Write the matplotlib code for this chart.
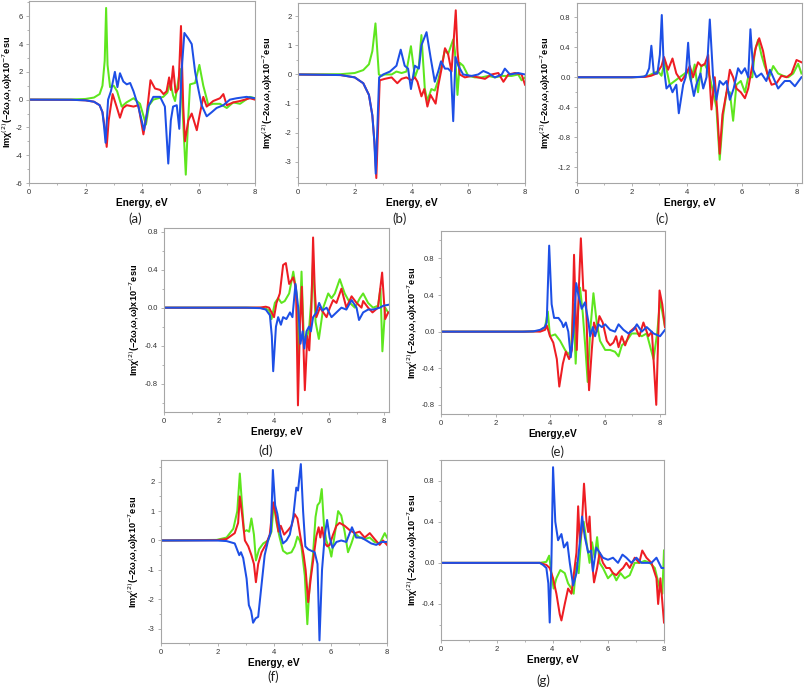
import matplotlib
matplotlib.use("Agg")
import matplotlib.pyplot as plt
from matplotlib.ticker import MultipleLocator, FormatStrFormatter

# ---------------- data (energy in eV, Im chi(2) in 1e-7 esu) ----------------
# panel (a)
A_GREEN_E = [0, 1.5, 2.0, 2.3, 2.5, 2.6, 2.68, 2.73, 2.78, 2.87, 3.0, 3.12, 3.28, 3.45, 3.7, 3.93, 4.14, 4.25, 4.4, 4.75,
             4.9, 5.0, 5.1, 5.17, 5.35, 5.42, 5.55, 5.62, 5.7, 5.88, 6.03, 6.17, 6.35, 6.52, 6.76, 7.0, 7.23, 7.47, 7.82, 8.0]
A_GREEN = [0, 0.01, 0.05, 0.15, 0.4, 1.0, 2.8, 6.6, 2.5, 0.9, 1.0, 0.6, -0.5, -0.2, 0.1, -0.3, -1.8, -0.4, 0.0, 0.2,
           0.5, 1.3, 0.3, -0.1, 2.2, 0.0, -5.4, -2.0, 1.1, 1.2, 2.5, 1.0, -0.4, -0.3, -0.3, -0.6, -0.2, -0.3, 0.2, 0.1]
A_RED_E = [0, 1.5, 2.0, 2.3, 2.5, 2.6, 2.68, 2.75, 2.82, 2.96, 3.1, 3.22, 3.33, 3.46, 3.7, 3.87, 4.05, 4.17, 4.3, 4.46,
           4.64, 4.76, 4.87, 4.96, 5.02, 5.1, 5.19, 5.29, 5.38, 5.46, 5.52, 5.64, 5.76, 5.94, 6.05, 6.17, 6.29, 6.52,
           6.76, 6.88, 7.0, 7.23, 7.47, 7.82, 8.0]
A_RED = [0, -0.01, -0.05, -0.15, -0.4, -0.9, -2.0, -3.4, -1.5, 0.4, -0.5, -1.3, -0.6, -0.4, -0.5, -0.4, -2.5, -1.0, 1.4, 0.8,
         0.7, 0.4, 0.6, 1.6, 0.7, 2.4, 0.5, 0.8, 5.3, -0.5, -3.0, -1.5, -1.0, -2.2, -1.0, 0.2, -0.5, -0.1,
         0.1, 0.4, -0.4, -0.2, -0.1, 0.1, 0.0]
A_BLUE_E = [0, 1.5, 2.0, 2.3, 2.5, 2.6, 2.66, 2.71, 2.8, 2.9, 3.04, 3.13, 3.22, 3.34, 3.46, 3.58, 3.7, 3.87, 4.07, 4.22,
            4.4, 4.64, 4.81, 4.93, 5.02, 5.1, 5.23, 5.32, 5.4, 5.5, 5.64, 5.76, 5.88, 5.99, 6.11, 6.29, 6.47, 6.64,
            6.88, 7.11, 7.35, 7.7, 8.0]
A_BLUE = [0, -0.01, -0.05, -0.15, -0.4, -0.9, -2.0, -3.1, 0.0, 0.6, 2.0, 0.9, 1.9, 1.3, 1.1, 1.2, 0.6, -0.5, -2.2, -0.5,
          0.2, 0.2, -0.5, -4.6, -1.5, -0.5, -0.4, -2.1, 2.0, 4.8, 4.4, 4.0, 2.0, 0.8, -0.4, -1.2, -0.9, -0.6,
          -0.4, 0.0, 0.1, 0.2, 0.1]

# panel (b)
B_GREEN_E = [0, 1.5, 2.0, 2.3, 2.5, 2.62, 2.73, 2.85, 2.94, 3.06, 3.3, 3.47, 3.65, 3.82, 3.98, 4.12, 4.26, 4.35, 4.47, 4.56,
             4.7, 4.82, 4.94, 5.06, 5.18, 5.29, 5.47, 5.53, 5.62, 5.7, 5.82, 6.0, 6.24, 6.47, 6.7, 6.94, 7.18, 7.53,
             7.76, 7.88, 8.0]
B_GREEN = [0, 0.01, 0.05, 0.15, 0.35, 0.8, 1.75, 0.0, -0.05, 0.0, 0.0, 0.1, 0.05, 0.1, 0.97, -0.1, 0.3, 1.35, -0.5, -0.9,
           -0.5, -0.55, -0.2, 0.3, 0.85, 0.7, 1.2, 0.8, -0.7, 0.4, 0.3, -0.05, -0.1, -0.1, -0.05, -0.1, -0.05, -0.05,
           0.0, -0.2, -0.1]
B_RED_E = [0, 1.5, 2.0, 2.3, 2.5, 2.62, 2.7, 2.76, 2.88, 3.06, 3.3, 3.5, 3.65, 3.82, 4.0, 4.12, 4.21, 4.35, 4.45, 4.56,
           4.67, 4.76, 4.85, 4.94, 5.06, 5.18, 5.29, 5.41, 5.49, 5.56, 5.62, 5.7, 5.88, 6.12, 6.35, 6.59, 6.82, 7.06,
           7.24, 7.41, 7.65, 7.88, 8.0]
B_RED = [0, -0.02, -0.1, -0.3, -0.7, -1.4, -2.4, -3.55, -0.2, -0.15, -0.1, -0.3, -0.15, -0.1, -0.2, -0.1, -0.25, -0.75, -0.5, -1.1,
         -0.7, -0.85, -1.0, -0.4, 0.2, 0.9, 0.7, 0.1, 1.2, 2.2, 0.8, 0.0, -0.1, -0.05, -0.1, -0.15, 0.0, 0.05,
         -0.25, 0.0, 0.05, 0.0, -0.35]
B_BLUE_E = [0, 1.5, 2.0, 2.3, 2.5, 2.62, 2.69, 2.74, 2.86, 3.0, 3.24, 3.47, 3.62, 3.76, 3.88, 3.98, 4.12, 4.26, 4.35, 4.53,
            4.67, 4.82, 4.94, 5.04, 5.18, 5.29, 5.39, 5.47, 5.55, 5.65, 5.82, 6.12, 6.35, 6.53, 6.7, 6.94, 7.18, 7.29,
            7.47, 7.76, 8.0]
B_BLUE = [0, -0.02, -0.1, -0.3, -0.7, -1.4, -2.3, -3.4, -0.1, 0.0, 0.1, 0.3, 0.85, 0.3, 0.2, -0.5, 0.3, 0.2, 1.0, 1.45,
          0.6, -0.25, 0.1, 0.45, 0.2, 0.2, 0.1, -1.6, 0.6, 0.3, 0.0, -0.05, 0.0, 0.12, 0.05, -0.1, 0.0, 0.2,
          0.0, 0.05, 0.0]

# panel (c)
C_GREEN_E = [0, 2.0, 2.4, 2.6, 2.77, 2.95, 3.08, 3.2, 3.38, 3.56, 3.74, 3.93, 4.05, 4.15, 4.29, 4.41, 4.53, 4.66, 4.75, 4.84,
             4.96, 5.08, 5.2, 5.33, 5.45, 5.57, 5.69, 5.81, 5.97, 6.12, 6.24, 6.39, 6.48, 6.6, 6.72, 6.84, 7.0, 7.15,
             7.33, 7.51, 7.7, 7.88, 8.06, 8.18]
C_GREEN = [0, 0.0, 0.005, 0.02, 0.05, 0.08, 0.02, 0.22, -0.1, -0.05, 0.0, 0.05, 0.1, -0.05, 0.17, -0.2, 0.15, 0.17, 0.1, 0.0,
           -0.2, -0.4, -1.1, -0.5, -0.2, -0.2, -0.58, -0.1, -0.05, -0.2, 0.0, 0.0, 0.35, 0.5, 0.3, 0.15, 0.0, 0.15,
           0.05, 0.02, 0.0, 0.05, 0.18, 0.05]
C_RED_E = [0, 2.0, 2.5, 2.7, 2.9, 3.08, 3.17, 3.32, 3.48, 3.62, 3.8, 3.99, 4.11, 4.23, 4.41, 4.53, 4.66, 4.78, 4.9, 5.02,
           5.12, 5.2, 5.3, 5.45, 5.57, 5.69, 5.81, 5.97, 6.12, 6.24, 6.36, 6.52, 6.64, 6.78, 6.93, 7.09, 7.27, 7.45,
           7.64, 7.82, 8.0, 8.18]
C_RED = [0, 0.0, 0.005, 0.02, 0.05, 0.15, 0.27, 0.1, 0.25, 0.05, -0.05, 0.05, 0.15, 0.0, 0.2, 0.15, 0.18, 0.3, -0.43, 0.0,
         -0.5, -1.02, -0.5, -0.2, 0.1, 0.0, -0.15, -0.2, -0.28, -0.15, 0.1, 0.4, 0.52, 0.35, 0.05, -0.1, -0.08, 0.02,
         0.0, 0.05, 0.23, 0.2]
C_BLUE_E = [0, 2.0, 2.3, 2.45, 2.53, 2.63, 2.71, 2.8, 2.93, 3.02, 3.09, 3.16, 3.26, 3.38, 3.48, 3.62, 3.71, 3.87, 3.96, 4.05,
            4.13, 4.26, 4.35, 4.5, 4.6, 4.72, 4.84, 4.96, 5.08, 5.2, 5.33, 5.45, 5.57, 5.71, 5.87, 5.99, 6.12, 6.24,
            6.32, 6.42, 6.54, 6.72, 6.9, 7.03, 7.15, 7.33, 7.57, 7.76, 7.94, 8.18]
C_BLUE = [0, 0.0, 0.005, 0.01, 0.03, 0.12, 0.42, 0.05, 0.05, 0.3, 0.83, 0.15, -0.15, -0.1, -0.2, -0.1, -0.48, -0.1, 0.0, 0.46,
          0.0, -0.25, -0.1, 0.05, -0.15, 0.0, 0.77, 0.0, -0.3, -0.05, -0.1, -0.05, -0.3, -0.15, 0.12, 0.05, 0.12, 0.0,
          0.64, 0.1, 0.0, 0.05, -0.05, 0.1, 0.0, -0.15, -0.05, -0.05, -0.12, 0.0]

# panel (d)
D_GREEN_E = [0, 3.0, 3.5, 3.7, 3.82, 3.91, 4.03, 4.15, 4.27, 4.39, 4.55, 4.7, 4.82, 4.9, 5.0, 5.08, 5.18, 5.28, 5.36, 5.42,
             5.51, 5.63, 5.79, 5.97, 6.09, 6.21, 6.39, 6.57, 6.76, 6.94, 7.12, 7.24, 7.42, 7.6, 7.78, 7.87, 7.94, 8.04, 8.15]
D_GREEN = [0, 0.0, -0.002, -0.01, -0.03, -0.12, 0.05, 0.1, 0.05, 0.07, 0.15, 0.38, 0.15, -0.5, 0.38, -0.3, -0.35, -0.2, 0.1, 0.5,
           -0.15, -0.33, 0.0, 0.15, 0.1, 0.15, 0.3, 0.15, 0.05, 0.0, 0.1, 0.15, 0.05, 0.0, 0.02, 0.2, -0.46, 0.0, -0.05]
D_RED_E = [0, 3.0, 3.5, 3.7, 3.82, 3.91, 4.0, 4.09, 4.21, 4.33, 4.43, 4.55, 4.7, 4.8, 4.87, 4.94, 5.01, 5.06, 5.12, 5.21,
           5.28, 5.36, 5.42, 5.48, 5.54, 5.67, 5.79, 5.91, 6.03, 6.15, 6.27, 6.45, 6.63, 6.82, 7.0, 7.18, 7.24, 7.42,
           7.58, 7.78, 7.93, 8.04, 8.15]
D_RED = [0, 0.0, 0.002, 0.01, 0.0, -0.05, -0.1, 0.05, 0.15, 0.45, 0.47, 0.25, 0.32, 0.2, -1.03, -0.2, 0.22, -0.3, -0.87, -0.3,
         -0.45, 0.0, 0.74, 0.2, -0.1, 0.0, -0.05, -0.1, 0.0, 0.08, 0.05, 0.2, 0.0, 0.12, 0.05, 0.0, 0.07, 0.0,
         -0.05, 0.0, 0.37, -0.12, -0.05]
D_BLUE_E = [0, 3.0, 3.5, 3.7, 3.85, 3.92, 3.97, 4.07, 4.15, 4.25, 4.33, 4.45, 4.58, 4.67, 4.78, 4.88, 4.96, 5.04, 5.1, 5.18,
            5.27, 5.34, 5.42, 5.54, 5.64, 5.76, 5.91, 6.09, 6.27, 6.45, 6.63, 6.82, 7.0, 7.09, 7.24, 7.42, 7.6, 7.85,
            7.97, 8.15]
D_BLUE = [0, 0.0, -0.005, -0.02, -0.08, -0.3, -0.67, -0.2, -0.1, -0.18, -0.1, -0.12, -0.05, -0.1, 0.25, 0.0, -0.38, -0.25, -0.43, -0.25,
          -0.2, -0.25, -0.1, -0.05, 0.05, -0.03, 0.0, -0.1, -0.05, 0.0, -0.02, 0.08, 0.0, -0.13, -0.05, -0.02, -0.02, 0.0,
          0.02, 0.03]

# panel (e)
E_GREEN_E = [0, 3.0, 3.4, 3.63, 3.81, 3.91, 3.99, 4.18, 4.36, 4.54, 4.66, 4.76, 4.85, 4.93, 5.01, 5.09, 5.19, 5.29, 5.37, 5.46,
             5.58, 5.7, 5.82, 6.01, 6.19, 6.37, 6.5, 6.62, 6.8, 6.98, 7.17, 7.35, 7.53, 7.78, 7.92, 8.02, 8.2]
E_GREEN = [0, 0.0, 0.003, 0.01, 0.05, 0.22, -0.05, -0.03, -0.1, -0.2, -0.25, -0.2, 0.3, -0.35, 0.2, 0.48, 0.2, -0.2, -0.55, 0.0,
           0.42, 0.1, -0.1, -0.2, -0.2, -0.22, -0.27, -0.15, -0.1, -0.02, -0.02, -0.05, -0.02, -0.3, 0.0, 0.35, 0.05]
E_RED_E = [0, 3.0, 3.4, 3.63, 3.81, 3.87, 3.99, 4.11, 4.24, 4.33, 4.46, 4.57, 4.69, 4.79, 4.87, 4.97, 5.05, 5.12, 5.21, 5.3,
           5.36, 5.42, 5.52, 5.6, 5.7, 5.8, 5.92, 6.07, 6.19, 6.31, 6.41, 6.5, 6.62, 6.74, 6.92, 7.11, 7.26, 7.41,
           7.59, 7.72, 7.88, 8.0, 8.1, 8.2]
E_RED = [0, 0.0, 0.002, 0.0, 0.02, 0.07, -0.05, -0.12, -0.3, -0.6, -0.35, -0.22, -0.3, -0.2, 0.84, -0.2, 0.5, 1.02, 0.45, 0.45,
         -0.2, -0.64, -0.2, 0.1, 0.0, 0.17, 0.1, -0.1, -0.15, -0.12, -0.05, -0.17, -0.05, -0.15, 0.0, 0.05, -0.05, 0.1,
         -0.05, 0.0, -0.8, 0.45, 0.3, 0.05]
E_BLUE_E = [0, 3.0, 3.38, 3.63, 3.8, 3.87, 3.96, 4.05, 4.14, 4.3, 4.42, 4.48, 4.57, 4.66, 4.75, 4.85, 4.95, 5.03, 5.15, 5.27,
            5.4, 5.46, 5.56, 5.64, 5.76, 5.89, 6.01, 6.19, 6.37, 6.5, 6.68, 6.86, 7.05, 7.17, 7.35, 7.53, 7.78, 8.02, 8.2]
E_BLUE = [0, 0.0, 0.003, 0.02, 0.05, 0.1, 0.94, 0.3, 0.15, 0.15, 0.1, 0.05, 0.1, 0.0, -0.28, 0.0, 0.53, 0.4, 0.25, 0.32,
          0.1, -0.05, 0.05, -0.05, 0.08, 0.05, 0.08, 0.02, 0.0, 0.08, 0.02, -0.02, 0.02, 0.08, 0.0, 0.05, -0.02, -0.05, 0.02]

# panel (f)
F_GREEN_E = [0, 1.97, 2.32, 2.56, 2.7, 2.79, 2.87, 2.94, 3.03, 3.12, 3.2, 3.29, 3.36, 3.47, 3.62, 3.79, 3.91, 3.99, 4.09, 4.2,
             4.32, 4.46, 4.62, 4.73, 4.83, 4.91, 4.97, 5.09, 5.18, 5.26, 5.38, 5.47, 5.54, 5.62, 5.69, 5.77, 5.85, 5.97,
             6.03, 6.15, 6.27, 6.38, 6.5, 6.62, 6.74, 6.86, 7.03, 7.21, 7.39, 7.56, 7.74, 7.92, 8.0]
F_GREEN = [0, 0.02, 0.1, 0.4, 1.0, 2.28, 1.2, 0.3, 0.35, 0.3, 0.75, 0.2, -0.68, -0.3, -0.1, 0.0, 0.3, 1.25, 0.6, 0.1,
           -0.35, -0.45, -0.4, -0.2, 0.13, 0.0, -0.2, -1.2, -2.85, -1.5, -0.5, 0.8, 1.2, 1.3, 1.75, 0.5, 0.0, -0.3,
           -0.55, 0.2, 1.0, 0.85, 0.3, -0.4, -0.1, 0.25, 0.1, 0.05, 0.1, -0.05, -0.1, 0.25, 0.1]
F_RED_E = [0, 1.97, 2.32, 2.61, 2.73, 2.79, 2.87, 2.97, 3.09, 3.2, 3.29, 3.36, 3.44, 3.56, 3.73, 3.85, 3.97, 4.06, 4.16, 4.24,
           4.36, 4.5, 4.62, 4.73, 4.83, 4.94, 5.05, 5.12, 5.21, 5.3, 5.41, 5.5, 5.58, 5.64, 5.7, 5.8, 5.89, 5.97, 6.09,
           6.21, 6.32, 6.5, 6.68, 6.86, 7.03, 7.21, 7.39, 7.56, 7.74, 7.86, 8.0]
F_RED = [0, 0.01, 0.05, 0.25, 0.6, 1.5, 0.9, 0.0, -0.2, -0.5, -0.8, -1.42, -0.8, -0.4, -0.1, 0.2, 1.3, 0.9, 0.3, 0.5,
         0.2, 0.35, 0.5, 0.9, 0.75, 0.1, -0.5, -1.0, -2.1, -1.3, -0.5, 0.15, 0.45, 0.1, 0.45, -0.1, -0.2, -0.15, 0.2,
         0.5, 0.6, 0.5, 0.35, 0.25, 0.3, 0.1, 0.25, 0.05, -0.15, 0.0, -0.15]
F_BLUE_E = [0, 1.97, 2.32, 2.61, 2.77, 2.83, 2.91, 3.03, 3.11, 3.19, 3.26, 3.35, 3.44, 3.56, 3.67, 3.79, 3.89, 3.96, 4.04, 4.12,
            4.23, 4.32, 4.44, 4.56, 4.68, 4.79, 4.85, 4.95, 5.03, 5.11, 5.21, 5.32, 5.44, 5.54, 5.61, 5.7, 5.8, 5.88,
            5.97, 6.07, 6.21, 6.38, 6.56, 6.68, 6.76, 6.91, 7.09, 7.27, 7.44, 7.62, 7.8, 8.0]
F_BLUE = [0, 0.0, -0.02, -0.1, -0.5, -0.4, -0.6, -1.3, -2.2, -2.4, -2.8, -2.65, -2.6, -1.5, -0.5, 0.0, 0.3, 2.4, 1.2, 0.9,
          0.2, -0.1, 0.0, 0.2, 0.8, 1.8, 1.7, 2.6, 1.0, -0.2, -0.3, -0.35, -0.4, -0.8, -3.4, -1.0, 0.2, 0.7,
          0.1, -0.25, -0.05, 0.0, -0.05, 0.25, 0.45, 0.1, 0.1, 0.0, -0.1, -0.15, -0.05, -0.05]

# panel (g)
G_GREEN_E = [0, 3.0, 3.54, 3.78, 3.88, 3.96, 4.04, 4.14, 4.28, 4.44, 4.56, 4.68, 4.76, 4.86, 4.94, 5.04, 5.12, 5.22, 5.33, 5.42,
             5.51, 5.6, 5.69, 5.81, 5.99, 6.17, 6.29, 6.44, 6.59, 6.77, 6.95, 7.13, 7.31, 7.49, 7.67, 7.85, 7.94, 8.0]
G_GREEN = [0, 0.0, 0.0, 0.01, 0.07, -0.1, -0.25, -0.15, -0.07, -0.1, -0.2, -0.25, -0.3, 0.0, -0.1, 0.3, 0.4, 0.2, 0.0, 0.2,
           0.05, 0.25, 0.0, -0.05, -0.15, -0.1, -0.17, -0.1, -0.15, -0.12, 0.0, 0.0, 0.02, 0.0, -0.05, -0.25, -0.3, 0.12]
G_RED_E = [0, 3.0, 3.54, 3.78, 3.9, 4.02, 4.14, 4.26, 4.32, 4.44, 4.56, 4.68, 4.77, 4.86, 4.92, 4.98, 5.04, 5.13, 5.22, 5.28,
           5.33, 5.39, 5.49, 5.6, 5.69, 5.81, 5.93, 6.05, 6.17, 6.29, 6.41, 6.53, 6.65, 6.77, 6.95, 7.11, 7.22, 7.37,
           7.55, 7.73, 7.79, 7.87, 8.0]
G_RED = [0, 0.0, 0.0, -0.02, -0.05, -0.15, -0.3, -0.5, -0.56, -0.4, -0.25, -0.3, -0.1, 0.1, 0.55, 0.2, 0.3, 0.77, 0.4, 0.3,
         0.45, 0.1, -0.19, -0.05, 0.1, 0.0, -0.05, -0.05, -0.1, -0.12, -0.08, -0.05, 0.0, -0.05, 0.05, 0.0, 0.12, 0.05,
         0.0, -0.15, -0.4, -0.15, -0.58]
G_BLUE_E = [0, 3.0, 3.54, 3.66, 3.78, 3.85, 3.9, 3.96, 4.02, 4.1, 4.2, 4.32, 4.41, 4.53, 4.62, 4.74, 4.86, 4.98, 5.06, 5.16,
            5.28, 5.39, 5.45, 5.57, 5.69, 5.81, 5.99, 6.17, 6.35, 6.51, 6.65, 6.83, 7.01, 7.19, 7.37, 7.55, 7.73, 7.91, 8.0]
G_BLUE = [0, 0.0, 0.0, -0.02, -0.05, -0.2, -0.58, 0.0, 0.93, 0.4, 0.22, 0.28, 0.15, 0.2, 0.0, -0.22, -0.1, 0.2, 0.45, 0.25,
          0.1, 0.12, -0.08, 0.15, 0.1, 0.05, 0.03, 0.05, 0.0, 0.08, 0.05, 0.0, 0.05, 0.0, 0.0, 0.0, 0.05, -0.05, -0.05]

LETTERS = ["(a)", "(b)", "(c)", "(d)", "(e)", "(f)", "(g)"]
XLABELS = ["Energy, eV"] * 4 + ["Energy,eV"] + ["Energy, eV"] * 2
YLABEL = "Imχ$^{(2)}$(−2ω,ω,ω)x10$^{-7}$esu"

GREEN = "#5ee61e"
RED = "#ee1d23"
BLUE = "#1d4fe6"
FRAME = "#a6a6a6"

W, H = 805, 687
plt.rcParams["axes.unicode_minus"] = False
plt.rcParams["font.family"] = ["Liberation Sans", "DejaVu Sans"]


def px_axes(fig, left, right, top, bottom):
    # pixel box -> figure fraction
    return fig.add_axes([left / W, 1 - bottom / H, (right - left) / W, (bottom - top) / H])


def draw_panel(ax, curves, xlim, ylim, ymajor, yfmt, xlabel, ylab_x):
    for (e, v), color in zip(curves, [GREEN, RED, BLUE]):
        ax.plot(e, v, color=color, lw=1.45, solid_joinstyle="round")
    ax.set_xlim(*xlim)
    ax.set_ylim(*ylim)
    ax.xaxis.set_major_locator(MultipleLocator(2))
    ax.xaxis.set_minor_locator(MultipleLocator(1))
    ax.yaxis.set_major_locator(MultipleLocator(ymajor))
    ax.yaxis.set_minor_locator(MultipleLocator(ymajor / 2))
    ax.yaxis.set_major_formatter(FormatStrFormatter(yfmt))
    ax.tick_params(which="both", direction="out", colors=FRAME, labelcolor="#333333", labelsize=5.5, width=0.6, pad=2)
    ax.tick_params(which="major", length=2.5)
    ax.tick_params(which="minor", length=1.5)
    for s in ax.spines.values():
        s.set_color(FRAME)
        s.set_linewidth(0.8)
    ax.set_xlabel(xlabel, fontsize=7.3, fontweight="bold", labelpad=1.5)
    ax.set_ylabel(YLABEL, fontsize=6.6, fontweight="bold")
    ax.yaxis.set_label_coords(ylab_x, 0.5)


fig = plt.figure(figsize=(W / 100, H / 100), dpi=100)

panels = [
    # (pixel box l, r, t, b), curves, xlim, ylim, y step, fmt, ylabel x
    ((29, 255, 1, 183), [(A_GREEN_E, A_GREEN), (A_RED_E, A_RED), (A_BLUE_E, A_BLUE)], (0, 8), (-6, 7.1), 2, "%d", -0.06),
    ((298, 525, 3, 183), [(B_GREEN_E, B_GREEN), (B_RED_E, B_RED), (B_BLUE_E, B_BLUE)], (0, 8), (-3.72, 2.45), 1, "%d", -0.1),
    ((577, 802, 3, 183), [(C_GREEN_E, C_GREEN), (C_RED_E, C_RED), (C_BLUE_E, C_BLUE)], (0, 8.2), (-1.41, 0.99), 0.4, "%.1f", -0.107),
    ((164, 389, 228, 412), [(D_GREEN_E, D_GREEN), (D_RED_E, D_RED), (D_BLUE_E, D_BLUE)], (0, 8.18), (-1.1, 0.84), 0.4, "%.1f", -0.1),
    ((441, 665, 231, 414), [(E_GREEN_E, E_GREEN), (E_RED_E, E_RED), (E_BLUE_E, E_BLUE)], (0, 8.2), (-0.9, 1.1), 0.4, "%.1f", -0.094),
    ((161, 387, 460, 643), [(F_GREEN_E, F_GREEN), (F_RED_E, F_RED), (F_BLUE_E, F_BLUE)], (0, 8), (-3.49, 2.74), 1, "%d", -0.088),
    ((441, 664, 460, 640), [(G_GREEN_E, G_GREEN), (G_RED_E, G_RED), (G_BLUE_E, G_BLUE)], (0, 8), (-0.75, 1.0), 0.4, "%.1f", -0.094),
]
letter_pos = [(135, 219), (400, 219), (662, 219), (266, 451), (557, 452), (273, 677), (543, 681)]

for i, (box, curves, xlim, ylim, ystep, fmt, ylx) in enumerate(panels):
    ax = px_axes(fig, *box)
    draw_panel(ax, curves, xlim, ylim, ystep, fmt, XLABELS[i], ylx)
    lx, ly = letter_pos[i]
    fig.text(lx / W, 1 - ly / H, LETTERS[i], ha="center", va="center", fontsize=9.5, family="Lato", color="#222222")

fig.savefig("out.png", dpi=100, facecolor="white")
